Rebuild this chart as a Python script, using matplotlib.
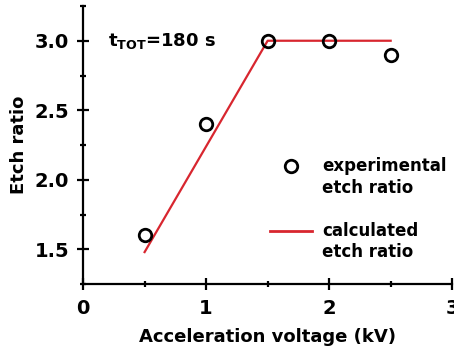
import matplotlib.pyplot as plt
from matplotlib.ticker import MultipleLocator

# =========================
# Data
# =========================
volt_exp = [0.5, 1.0, 1.5, 2.0, 2.5]
ratio_exp = [1.6, 2.4, 3.0, 3.0, 2.9]

volt_calc = [0.5, 1.5, 2.5]
ratio_calc = [1.48, 3.0, 3.0]

x_ticks = [0, 1, 2, 3]
y_ticks = [1.5, 2.0, 2.5, 3.0]

plt.rcParams['font.family'] = 'DejaVu Sans'
plt.rcParams['font.weight'] = 'bold'

fig = plt.figure(figsize=(4.54, 3.52), dpi=100)
ax = fig.add_axes([0.183, 0.193, 0.813, 0.79])

ax.plot(volt_calc, ratio_calc, color='#d8262f', lw=1.6, zorder=2)
ax.plot(volt_exp, ratio_exp, 'o', ms=9, mfc='none', mec='black', mew=2, zorder=3)

ax.set_xlim(0, 3)
ax.set_ylim(1.25, 3.25)
ax.set_xticks(x_ticks)
ax.set_yticks(y_ticks)
ax.set_yticklabels([f'{v:.1f}' for v in y_ticks])
ax.xaxis.set_minor_locator(MultipleLocator(0.5))
ax.yaxis.set_minor_locator(MultipleLocator(0.25))

ax.spines['top'].set_visible(False)
ax.spines['right'].set_visible(False)
for s in ['left', 'bottom']:
    ax.spines[s].set_linewidth(1.6)

ax.tick_params(which='major', direction='inout', length=8, width=1.6, labelsize=14)
ax.tick_params(axis='y', which='major', pad=6)
ax.tick_params(axis='x', which='major', pad=7)
ax.tick_params(which='minor', direction='inout', length=5, width=1.6)

ax.set_xlabel('Acceleration voltage (kV)', fontsize=13, fontweight='bold', labelpad=7)
ax.set_ylabel('Etch ratio', fontsize=13, fontweight='bold', labelpad=5)

# Annotation
ax.text(0.2, 3.0, r'$\mathbf{t_{TOT}}$=180 s', fontsize=13, fontweight='bold', va='center')

# Custom legend
ax.plot([1.69], [2.1], 'o', ms=9, mfc='none', mec='black', mew=2)
ax.text(1.94, 2.1, 'experimental', fontsize=12, fontweight='bold', va='center')
ax.text(1.94, 1.94, 'etch ratio', fontsize=12, fontweight='bold', va='center')
ax.plot([1.52, 1.86], [1.634, 1.634], color='#d8262f', lw=2)
ax.text(1.94, 1.634, 'calculated', fontsize=12, fontweight='bold', va='center')
ax.text(1.94, 1.48, 'etch ratio', fontsize=12, fontweight='bold', va='center')

fig.savefig('out.png', dpi=100)
